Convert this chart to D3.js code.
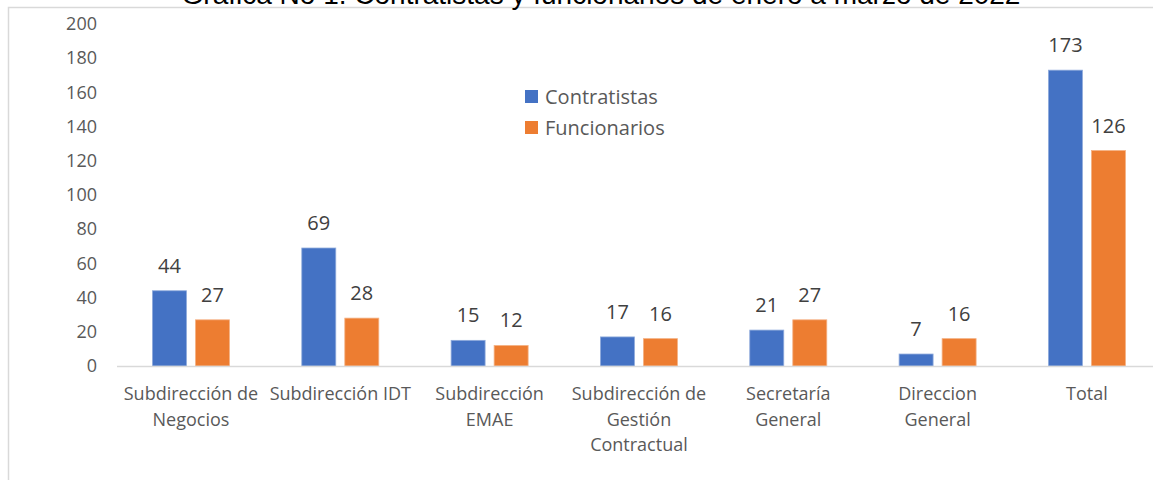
<!DOCTYPE html>
<html>
<head>
<meta charset="utf-8">
<script src="https://cdn.jsdelivr.net/npm/d3@7"></script>
<style>
  body { margin: 0; background: #fff; }
  svg { display: block; }
</style>
</head>
<body>
<div id="vis"></div>
<script>
// data
var categories = ['Subdirección de Negocios', 'Subdirección IDT', 'Subdirección EMAE',
    'Subdirección de Gestión Contractual', 'Secretaría General', 'Direccion General', 'Total'];
var category_lines = [
    ['Subdirección de', 'Negocios'],
    ['Subdirección IDT'],
    ['Subdirección', 'EMAE'],
    ['Subdirección de', 'Gestión', 'Contractual'],
    ['Secretaría', 'General'],
    ['Direccion', 'General'],
    ['Total']
];
var series = ['Contratistas', 'Funcionarios'];
var contratistas = [44, 69, 15, 17, 21, 7, 173];
var funcionarios = [27, 28, 12, 16, 27, 16, 126];
var y_ticks = [0, 20, 40, 60, 80, 100, 120, 140, 160, 180, 200];
var title = 'Gráfica No 1. Contratistas y funcionarios de enero a marzo de 2022';

var width = 1153,
    height = 480;

var colours = {
    'Contratistas': '#4472C4',
    'Funcionarios': '#ED7D31'
};
var strokes = {
    'Contratistas': '#8eaadb',
    'Funcionarios': '#f4b183'
};

var svg = d3.select('#vis')
    .append('svg')
    .attr('width', width)
    .attr('height', height)
    .style('font-family', '"Open Sans", sans-serif');

// chart area border (cut off on the right and bottom like the picture)
svg.append('rect')
    .attr('x', 8.5)
    .attr('y', 7.5)
    .attr('width', width + 20)
    .attr('height', height + 20)
    .attr('fill', 'none')
    .attr('stroke', '#d9d9d9')
    .attr('stroke-width', 1.5);

// title, mostly above the top edge in the source picture
svg.append('text')
    .attr('x', 601)
    .attr('y', 4)
    .attr('text-anchor', 'middle')
    .style('font-family', '"Liberation Sans", Arial, sans-serif')
    .style('font-size', '28px')
    .attr('fill', '#000')
    .text(title);

var x0 = d3.scaleBand()
    .domain(categories)
    .range([116.3, 1161.6])
    .padding(0);

var group_w = 77;
var x1 = d3.scaleBand()
    .domain(series)
    .range([x0.bandwidth() / 2 - group_w / 2, x0.bandwidth() / 2 + group_w / 2])
    .paddingInner(0.21);

var y = d3.scaleLinear()
    .domain([0, 200])
    .range([366, 24]);

// y axis labels only
var y_axis = d3.axisLeft(y)
    .tickValues(y_ticks)
    .tickSize(0)
    .tickPadding(20);

var yg = svg.append('g')
    .attr('transform', 'translate(117,0)')
    .call(y_axis);
yg.select('.domain').remove();
yg.selectAll('text')
    .style('font-size', '18px')
    .style('font-family', '"Open Sans", sans-serif')
    .attr('fill', '#595959');

// bars
var rows = categories.map(function(c, i) {
    return { cat: c, values: [
        { key: 'Contratistas', value: contratistas[i] },
        { key: 'Funcionarios', value: funcionarios[i] }
    ] };
});

var groups = svg.selectAll('.group')
    .data(rows)
    .enter()
    .append('g')
    .attr('class', 'group')
    .attr('transform', function(d) {
        return 'translate(' + x0(d.cat) + ',0)';
    });

groups.selectAll('rect')
    .data(function(d) { return d.values; })
    .enter()
    .append('rect')
    .attr('x', function(d) { return x1(d.key); })
    .attr('width', x1.bandwidth())
    .attr('y', function(d) { return y(d.value); })
    .attr('height', function(d) { return y(0) - y(d.value); })
    .attr('fill', function(d) { return colours[d.key]; })
    .attr('stroke', function(d) { return strokes[d.key]; })
    .attr('stroke-width', 0.8);

groups.selectAll('.label')
    .data(function(d) { return d.values; })
    .enter()
    .append('text')
    .attr('class', 'label')
    .attr('x', function(d) { return x1(d.key) + x1.bandwidth() / 2; })
    .attr('y', function(d) { return y(d.value) - 18; })
    .attr('text-anchor', 'middle')
    .style('font-size', '20px')
    .attr('fill', '#404040')
    .text(function(d) { return d.value; });

// x axis line
svg.append('line')
    .attr('x1', 117)
    .attr('x2', width)
    .attr('y1', y(0) + 0.5)
    .attr('y2', y(0) + 0.5)
    .attr('stroke', '#d9d9d9')
    .attr('stroke-width', 1.5);

// category labels
var cat_labels = svg.selectAll('.cat')
    .data(categories)
    .enter()
    .append('text')
    .attr('class', 'cat')
    .attr('text-anchor', 'middle')
    .style('font-size', '18px')
    .attr('fill', '#595959');

cat_labels.selectAll('tspan')
    .data(function(d, i) {
        return category_lines[i].map(function(l) { return { line: l, cat: d }; });
    })
    .enter()
    .append('tspan')
    .attr('x', function(d) { return x0(d.cat) + x0.bandwidth() / 2; })
    .attr('y', function(d, j) { return 400 + j * 25.5; })
    .text(function(d) { return d.line; });

// legend
var legend = svg.selectAll('.legend')
    .data(series)
    .enter()
    .append('g')
    .attr('class', 'legend')
    .attr('transform', function(d, i) {
        return 'translate(525,' + (90 + i * 31) + ')';
    });

legend.append('rect')
    .attr('width', 13)
    .attr('height', 13)
    .attr('fill', function(d) { return colours[d]; });

legend.append('text')
    .attr('x', 20)
    .attr('y', 6.5)
    .attr('dy', '0.35em')
    .style('font-size', '20px')
    .attr('fill', '#595959')
    .text(function(d) { return d; });
</script>
</body>
</html>
